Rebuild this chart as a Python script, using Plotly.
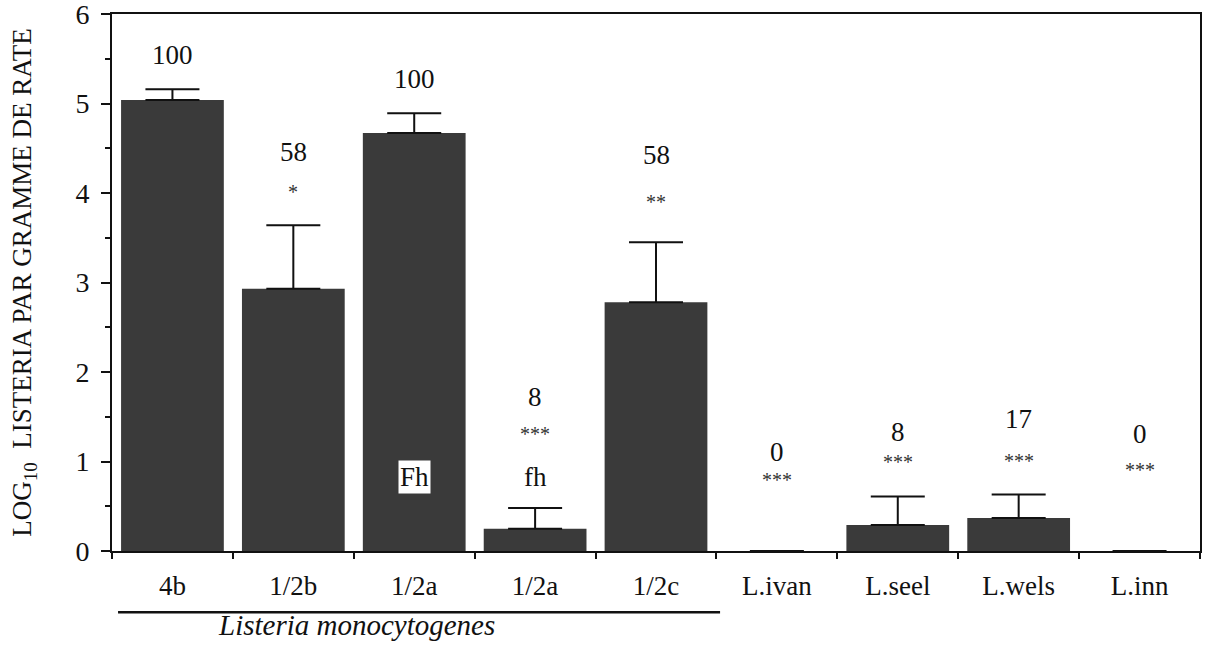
import plotly.graph_objects as go

categories = ["4b", "1/2b", "1/2a", "1/2a ", "1/2c", "L.ivan", "L.seel", "L.wels", "L.inn"]
tick_labels = ["4b", "1/2b", "1/2a", "1/2a", "1/2c", "L.ivan", "L.seel", "L.wels", "L.inn"]
log_counts = [5.04, 2.93, 4.67, 0.25, 2.78, 0.0, 0.29, 0.37, 0.0]
err_up = [0.12, 0.71, 0.22, 0.23, 0.67, 0.0, 0.32, 0.26, 0.0]
percent_labels = ["100", "58", "100", "8", "58", "0", "8", "17", "0"]
percent_y = [5.54, 4.46, 5.27, 1.72, 4.43, 1.11, 1.33, 1.47, 1.31]
star_labels = ["", "*", "", "***", "**", "***", "***", "***", "***"]
star_y = [0, 4.01, 0, 1.31, 3.90, 0.79, 0.99, 1.01, 0.91]
phenotype_cats = ["1/2a", "1/2a "]
phenotype_labels = ["Fh", "fh"]
phenotype_y = [0.83, 0.83]
phenotype_boxed = [True, False]

FONT = "Liberation Serif"

# no error bar drawn where there is no spread
err_plot = [e if e > 0 else None for e in err_up]
err_minus = [0 if e > 0 else None for e in err_up]

fig = go.Figure()
fig.add_trace(go.Bar(
    x=categories, y=log_counts,
    marker=dict(color="#3a3a3a", line=dict(width=0)),
    error_y=dict(type="data", symmetric=False, array=err_plot,
                 arrayminus=err_minus, color="#111111",
                 thickness=2, width=27, visible=True),
    width=0.85,
))

for c, t, yv in zip(categories, percent_labels, percent_y):
    fig.add_annotation(x=c, y=yv, text=t, showarrow=False,
                       font=dict(family=FONT, size=27, color="#111111"))
for c, t, yv in zip(categories, star_labels, star_y):
    if t:
        fig.add_annotation(x=c, y=yv, text=t, showarrow=False,
                           font=dict(family=FONT, size=20, color="#333333"))
for c, t, yv, boxed in zip(phenotype_cats, phenotype_labels, phenotype_y, phenotype_boxed):
    fig.add_annotation(x=c, y=yv, text=t, showarrow=False,
                       font=dict(family=FONT, size=27, color="#111111"),
                       bgcolor="white" if boxed else "rgba(0,0,0,0)", borderpad=1)

fig.add_annotation(x=1.52, y=-0.138, xref="x", yref="paper", yanchor="middle",
                   text="<i>Listeria monocytogenes</i>", showarrow=False,
                   font=dict(family=FONT, size=29, color="#111111"))
fig.add_shape(type="line", xref="x", yref="paper", x0=-0.45, x1=4.53,
              y0=-0.114, y1=-0.114, line=dict(color="#111111", width=2.5))

fig.update_layout(
    width=1211, height=652,
    margin=dict(l=112, r=11, t=14, b=101),
    paper_bgcolor="white", plot_bgcolor="white",
    showlegend=False,
    bargap=0.15,
    font=dict(family=FONT, color="#111111"),
    xaxis=dict(
        type="category", tickmode="array", tickvals=categories, ticktext=tick_labels,
        tickson="boundaries", ticks="outside", ticklen=6, tickwidth=2,
        tickcolor="#111111", showline=True, linecolor="#111111", linewidth=2,
        mirror=True, showgrid=False, tickfont=dict(family=FONT, size=27),
        ticklabelstandoff=10,
        range=[-0.5, 8.5], automargin=False,
    ),
    yaxis=dict(
        range=[0, 6], dtick=1, ticks="outside", ticklen=9, tickwidth=2,
        tickcolor="#111111", showline=True, linecolor="#111111", linewidth=2,
        mirror=True, showgrid=False, zeroline=False, automargin=False,
        tickfont=dict(family=FONT, size=28), ticklabeloverflow="allow",
        ticklabelstandoff=6,
        minor=dict(dtick=0.5, ticks="outside", ticklen=5, tickwidth=1.5,
                   tickcolor="#111111"),
        title=dict(text="LOG<sub>10</sub>  LISTERIA PAR GRAMME DE RATE",
                   font=dict(family=FONT, size=27), standoff=36),
    ),
)

fig.write_html("out.html")
